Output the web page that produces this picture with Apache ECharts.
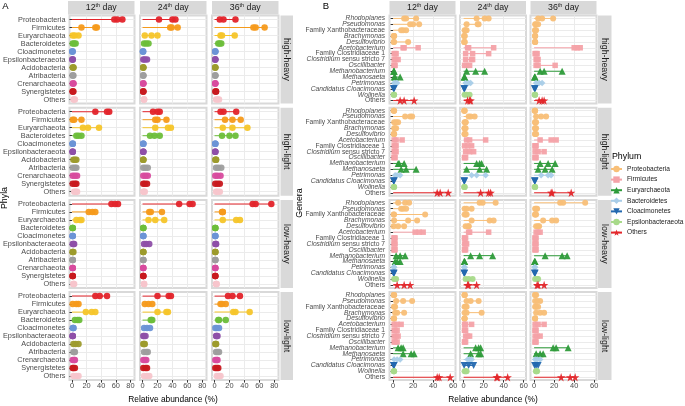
<!DOCTYPE html>
<html>
<head>
<meta charset="utf-8">
<script src="https://cdn.jsdelivr.net/npm/echarts@6/dist/echarts.min.js"></script>
<style>html,body{margin:0;padding:0;background:#fff}#main{width:685px;height:406px}</style>
</head>
<body>
<div id="main"></div>
<script>
var FONT = '"Liberation Sans", Arial, sans-serif';
var STAR = 'path://M50,0L61.2,34.5L97.6,34.5L68.2,55.9L79.4,90.5L50,69.1L20.6,90.5L31.8,55.9L2.4,34.5L38.8,34.5Z';

var days = ['12', '24', '36'];
var treatments = ['high-heavy', 'high-light', 'low-heavy', 'low-light'];

// panel A: phyla
var phyla = ['Proteobacteria', 'Firmicutes', 'Euryarchaeota', 'Bacteroidetes', 'Cloacimonetes',
    'Epsilonbacteraeota', 'Acidobacteria', 'Atribacteria', 'Crenarchaeota', 'Synergistetes', 'Others'];
var phylaColors = ['#E3242B', '#F59A1B', '#F6C52A', '#6DBE3A', '#6B93D6', '#8E4FA8',
    '#9D9B2C', '#9E9E9E', '#D84B9E', '#C8191F', '#F7C5CB'];

// panel B: genera, coloured by phylum
var genera = ['Rhodoplanes', 'Pseudomonas', 'Family Xanthobacteraceae', 'Brachymonas', 'Desulfovibrio',
    'Acetobacterium', 'Family Clostridiaceae 1', 'Clostridium sensu stricto 7', 'Oscillibacter',
    'Methanobacterium', 'Methanosaeta', 'Petrimonas', 'Candidatus Cloacimonas', 'Wolinella', 'Others'];
var generaPhylum = [0, 0, 0, 0, 0, 1, 1, 1, 1, 2, 2, 3, 4, 5, 6];
var legendPhyla = ['Proteobacteria', 'Firmicutes', 'Euryarchaeota', 'Bacteroidetes', 'Cloacimonetes', 'Epsilonbacteraeota', 'Others'];
var legendColors = ['#F8BF78', '#F4A2A8', '#2E9B3A', '#A9CDE8', '#2368AF', '#A8DA8A', '#E3262A'];
var legendSymbols = ['circle', 'rect', 'triangle', 'diamond', 'triangle', 'circle', STAR];
var legendRotate = [0, 0, 0, 0, 180, 0, 0];
var legendSizes = [6, 5.5, 7, 6.5, 7, 6, 8.5];

// relative abundance (%), three replicates per taxon
var aHH12 = [[58,62,69],[13,32,34],[1,4,9],[1,3,5],[0.5,0.5,1],[0.5,1,1],[1,2,2],[1,1,2],[1,2,2],[1,1,2],[2,3,4]];
var aHH24 = [[22,40,44],[37,39,47],[3,12,20],[2,5,8],[0.5,0.5,1],[1,3,6],[1,1,1],[1,1,1],[1,1,1],[1,1,1],[2,2,2]];
var aHH36 = [[7,12,28],[52,55,67],[8,10,27],[5,7,9],[1,1,1],[1,1,1],[1,1,1],[1,1,1],[1,1,1],[1,2,2],[2,4,6]];
var aHL12 = [[32,48,51],[1,3,13],[15,22,37],[6,9,13],[1,1,1],[1,1,1],[2,4,6],[1,4,6],[1,4,7],[1,4,6],[3,5,7]];
var aHL24 = [[14,20,23],[17,20,32],[17,34,38],[10,16,23],[1,1,1],[1,1,1],[1,1,1],[1,4,7],[1,4,7],[1,3,6],[1,2,3]];
var aHL36 = [[8,12,29],[14,24,35],[11,24,44],[10,20,28],[1,1,1],[1,1,1],[1,2,2],[2,5,9],[1,4,8],[1,4,7],[2,4,7]];
var aLH12 = [[54,59,63],[23,28,32],[6,11,13],[1,1,1],[1,1,1],[1,2,3],[1,1,2],[1,1,1],[1,1,1],[1,1,1],[2,2,3]];
var aLH24 = [[49,63,67],[9,11,26],[8,17,29],[1,1,1],[1,1,1],[2,5,9],[1,1,1],[1,1,1],[1,1,1],[1,1,1],[2,2,2]];
var aLH36 = [[51,55,76],[10,11,11],[11,29,34],[1,1,1],[1,1,1],[1,2,2],[1,1,1],[1,1,1],[1,1,1],[1,1,1],[2,2,3]];
var aLL12 = [[32,38,48],[1,6,9],[19,27,32],[4,7.5,10],[1,2,2],[1,1,1],[2,5,9],[2,3,4],[1,3,4],[1,2,4],[2,6,9]];
var aLL24 = [[20,35,38],[3,8,13],[20,32,34],[11,12,13],[2,6,10],[1,2,4],[1,2,3],[2,5,7],[1,3,5],[1,4,6],[2,6,9]];
var aLL36 = [[18,24,34],[8,10,15],[25,28,47],[5,6,15],[1,3,6],[2,3,4],[1,2,2],[2,4,6],[1,3,4],[1,3,5],[3,6,8]];

var bHH12 = [[11,13,23],[17,20,26],[8,10,13],[0.5,1,1],[0.5,1,15],[10,11,25],[1,2,3],[1,3,5],[1,1,2],[0.5,1,1],[1,2,7],[1,3,4],[0.5,0.5,1],[0.5,1,1],[7,11,21]];
var bHH24 = [[13,21,25],[3,14,15],[1,2,3],[0.5,1,1],[0.5,1,1],[4,5,30],[2,9,25],[2,8,9],[1,3,6],[3,12,21],[0.5,1,1],[2,5,7],[0.5,0.5,1],[1,3,6],[4,6,7]];
var bHH36 = [[4,8,19],[1,2,4],[1,1,2],[1,1,1],[1,1,1],[40,43,46],[1,2,3],[2,3,4],[2,4,21],[6,10,28],[0.5,0.5,1],[2,5,8],[0.5,0.5,1],[0.5,1,1],[5,8,10]];
var bHL12 = [[0.5,1,1],[12,17,19],[1,3,5],[1,2,3],[0.5,1,1],[1,3,9],[1,2,3],[1,2,3],[1,1,2],[5,6,11],[8,13,23],[2,4,7],[0.5,0.5,1],[0.5,1,1],[44,47,55]];
var bHL24 = [[0.5,1,1],[5,7,11],[1,2,2],[1,1,2],[1,1,2],[3,6,22],[1,4,8],[2,6,10],[1,1,2],[13,16,18],[3,16,23],[8,13,22],[0.5,0.5,1],[0.5,1,1],[17,25,27]];
var bHL36 = [[0.5,1,1],[2,7,12],[1,1,2],[1,1,2],[1,1,2],[6,17,22],[1,1,2],[1,4,10],[1,1,2],[6,14,21],[4,11,18],[7,14,17],[0.5,0.5,1],[0.5,1,1],[17,18,37]];
var bLH12 = [[5,12,16],[8,10,13],[0.5,1,32],[1,15,24],[0.5,5,11],[22,26,30],[1,1,2],[1,1,2],[1,1,2],[3,7,12],[2,4,7],[0.5,1,1],[0.5,0.5,1],[1,2,3],[4,11,17]];
var bLH24 = [[16,19,32],[1,3,8],[1,2,3],[8,26,30],[2,5,5],[5,6,25],[1,1,2],[1,2,3],[1,1,2],[7,16,29],[0.5,1,1],[0.5,1,1],[0.5,0.5,1],[2,5,9],[4,5,13]];
var bLH36 = [[26,29,51],[1,2,3],[1,1,2],[9,18,22],[2,4,5],[2,4,6],[1,1,2],[1,1,2],[1,1,2],[11,28,33],[0.5,0.5,1],[0.5,0.5,1],[0.5,0.5,1],[1,3,4],[3,4,10]];
var bLL12 = [[0.5,1,1],[3,10,19],[1,1,2],[2,4,11],[0.5,1,1],[1,4,8],[1,2,4],[1,3,5],[1,2,4],[5,8,10],[10,18,21],[1,4,7],[0.5,0.5,1],[0.5,1,1],[44,46,57]];
var bLL24 = [[1,1,1],[3,7,15],[1,2,3],[1,3,18],[1,1,1],[1,2,8],[1,1,2],[2,4,6],[1,1,2],[12,15,17],[7,15,17],[4,6,8],[0.5,5,10],[1,2,3],[33,34,44]];
var bLL36 = [[1,1,2],[1,3,6],[1,2,4],[2,6,10],[1,1,1],[1,4,10],[1,1,2],[1,3,6],[1,1,2],[19,22,34],[2,6,9],[1,3,6],[0.5,2,4],[2,2,3],[27,36,41]];

var panelA = [[aHH12, aHH24, aHH36], [aHL12, aHL24, aHL36], [aLH12, aLH24, aLH36], [aLL12, aLL24, aLL36]];
var panelB = [[bHH12, bHH24, bHH36], [bHL12, bHL24, bHL36], [bLH12, bLH24, bLH36], [bLL12, bLL24, bLL36]];

// layout
var rowTop = [15.5, 107.7, 199.9, 292.1], rowH = 88;
var colA = [68, 140, 212], colWA = 66.5;
var colB = [389.5, 460, 530.5], colWB = 66;

var grids = [], xAxes = [], yAxes = [], series = [], graphics = [];

function genusLabel(v) {
    if (v === 'Others' || v.indexOf('Family') === 0) return '{n|' + v + '}';
    if (v.indexOf('Clostridium') === 0) return '{i|Clostridium}{n|' + v.slice(11) + '}';
    return '{i|' + v + '}';
}

function addFacet(o) {
    var gi = grids.length;
    grids.push({
        left: o.left, top: o.top, width: o.width, height: rowH, show: true,
        backgroundColor: '#fff', borderColor: '#D9D9D9', borderWidth: 2
    });
    xAxes.push({
        gridIndex: gi, type: 'value', min: o.xMin, max: o.xMax, splitNumber: o.split,
        axisLine: { show: false },
        axisTick: { show: o.showX, customValues: o.ticks, length: 2.5, lineStyle: { color: '#333' } },
        axisLabel: { show: o.showX, customValues: o.ticks, fontSize: 7.4, color: '#4D4D4D', margin: 2.5 },
        splitLine: { show: true, showMinLine: false, showMaxLine: false, lineStyle: { color: '#EBEBEB', width: 1 } }
    });
    yAxes.push({
        gridIndex: gi, type: 'category', data: o.cats, inverse: true,
        axisLine: { show: false },
        axisTick: { show: o.showY, alignWithLabel: true, interval: 0, length: 2.5, lineStyle: { color: '#333' } },
        axisLabel: o.yLabel,
        splitLine: { show: true, alignWithLabel: true, interval: 0, lineStyle: { color: '#EBEBEB', width: 1 } }
    });
    series.push({
        type: 'bar', xAxisIndex: gi, yAxisIndex: gi, barWidth: 1, silent: true, z: 2,
        data: o.rows.map(function (t, i) {
            return { value: Math.max.apply(null, t), itemStyle: { color: o.colorOf(i) } };
        })
    });
    var pts = [];
    o.rows.forEach(function (t, i) {
        var s = o.symbolOf(i);
        t.forEach(function (v) {
            pts.push({ value: [v, i], symbol: s.symbol, symbolSize: s.size, symbolRotate: s.rotate,
                itemStyle: { color: o.colorOf(i), opacity: 0.95 } });
        });
    });
    series.push({ type: 'scatter', xAxisIndex: gi, yAxisIndex: gi, silent: true, z: 3, data: pts });
}

function stripTop(x, w, d) {
    graphics.push({ type: 'rect', shape: { x: x, y: 1, width: w, height: 13.5 }, style: { fill: '#D9D9D9' }, silent: true });
    graphics.push({ type: 'text', x: x + w / 2, y: 8, silent: true, style: {
        text: '{n|' + d + '}{s|th}{n| day}', align: 'center', verticalAlign: 'middle',
        rich: { n: { fontSize: 8.8, fontFamily: FONT, fill: '#1A1A1A', lineHeight: 11 },
                s: { fontSize: 5.5, fontFamily: FONT, fill: '#1A1A1A', verticalAlign: 'top', lineHeight: 7 } }
    } });
}
function stripRight(x, w, top, t) {
    graphics.push({ type: 'rect', shape: { x: x, y: top, width: w, height: rowH }, style: { fill: '#D9D9D9' }, silent: true });
    graphics.push({ type: 'text', x: x + w / 2, y: top + rowH / 2, rotation: -Math.PI / 2, silent: true, style: {
        text: t, fontSize: 8.8, fontFamily: FONT, fill: '#1A1A1A', align: 'center', verticalAlign: 'middle' } });
}
function plainText(x, y, t, size, rot, align) {
    graphics.push({ type: 'text', x: x, y: y, rotation: rot || 0, silent: true, style: {
        text: t, fontSize: size, fontFamily: FONT, fill: '#000', align: align || 'center', verticalAlign: 'middle' } });
}

for (var r = 0; r < 4; r++) {
    for (var c = 0; c < 3; c++) {
        addFacet({
            left: colA[c], top: rowTop[r], width: colWA, xMin: -3.4, xMax: 85.6, split: 9,
            ticks: [0, 20, 40, 60, 80], showX: r === 3, showY: c === 0, cats: phyla, rows: panelA[r][c],
            yLabel: { show: c === 0, interval: 0, fontSize: 7.3, color: '#4D4D4D', margin: 4 },
            colorOf: function (i) { return phylaColors[i]; },
            symbolOf: function () { return { symbol: 'circle', size: 6.5, rotate: 0 }; }
        });
    }
}
for (var r2 = 0; r2 < 4; r2++) {
    for (var c2 = 0; c2 < 3; c2++) {
        addFacet({
            left: colB[c2], top: rowTop[r2], width: colWB, xMin: -3.6, xMax: 62.3, split: 7,
            ticks: [0, 20, 40, 60], showX: r2 === 3, showY: c2 === 0, cats: genera, rows: panelB[r2][c2],
            yLabel: { show: c2 === 0, interval: 0, margin: 4.5, formatter: genusLabel,
                rich: { i: { fontSize: 6.7, fontStyle: 'italic', color: '#4D4D4D', fontFamily: FONT },
                        n: { fontSize: 6.7, color: '#4D4D4D', fontFamily: FONT } } },
            colorOf: function (i) { return legendColors[generaPhylum[i]]; },
            symbolOf: function (i) {
                var p = generaPhylum[i];
                return { symbol: legendSymbols[p], size: legendSizes[p], rotate: legendRotate[p] };
            }
        });
    }
}

// empty line series only to give the legend its line + symbol keys
legendPhyla.forEach(function (name, k) {
    series.push({
        type: 'line', name: name, data: [], xAxisIndex: 12, yAxisIndex: 12,
        symbol: legendSymbols[k], symbolRotate: legendRotate[k],
        itemStyle: { color: legendColors[k] }, lineStyle: { color: legendColors[k], width: 1 }
    });
});

for (var k = 0; k < 3; k++) {
    stripTop(colA[k], colWA, days[k]);
    stripTop(colB[k], colWB, days[k]);
}
for (var t = 0; t < 4; t++) {
    stripRight(280.5, 12.5, rowTop[t], treatments[t]);
    stripRight(598, 13.5, rowTop[t], treatments[t]);
}
plainText(5.5, 6.5, 'A', 9.5);
plainText(326, 6.5, 'B', 9.5);
plainText(5, 198, 'Phyla', 8.8, Math.PI / 2);
plainText(300, 203, 'Genera', 8.8, Math.PI / 2);
plainText(173, 400, 'Relative abundance (%)', 8.4);
plainText(493, 400, 'Relative abundance (%)', 8.4);
plainText(612, 157, 'Phylum', 8.8, 0, 'left');

var myChart = echarts.init(document.getElementById('main'));
option = {
    animation: false,
    backgroundColor: '#fff',
    textStyle: { fontFamily: FONT },
    grid: grids,
    xAxis: xAxes,
    yAxis: yAxes,
    legend: {
        data: legendPhyla, orient: 'vertical', left: 610, top: 165, padding: 0,
        itemWidth: 11, itemHeight: 8, itemGap: 2.6, selectedMode: false,
        textStyle: { fontSize: 6.6, color: '#1A1A1A', fontFamily: FONT, lineHeight: 8 }
    },
    graphic: graphics,
    series: series
};
myChart.setOption(option);
</script>
</body>
</html>
